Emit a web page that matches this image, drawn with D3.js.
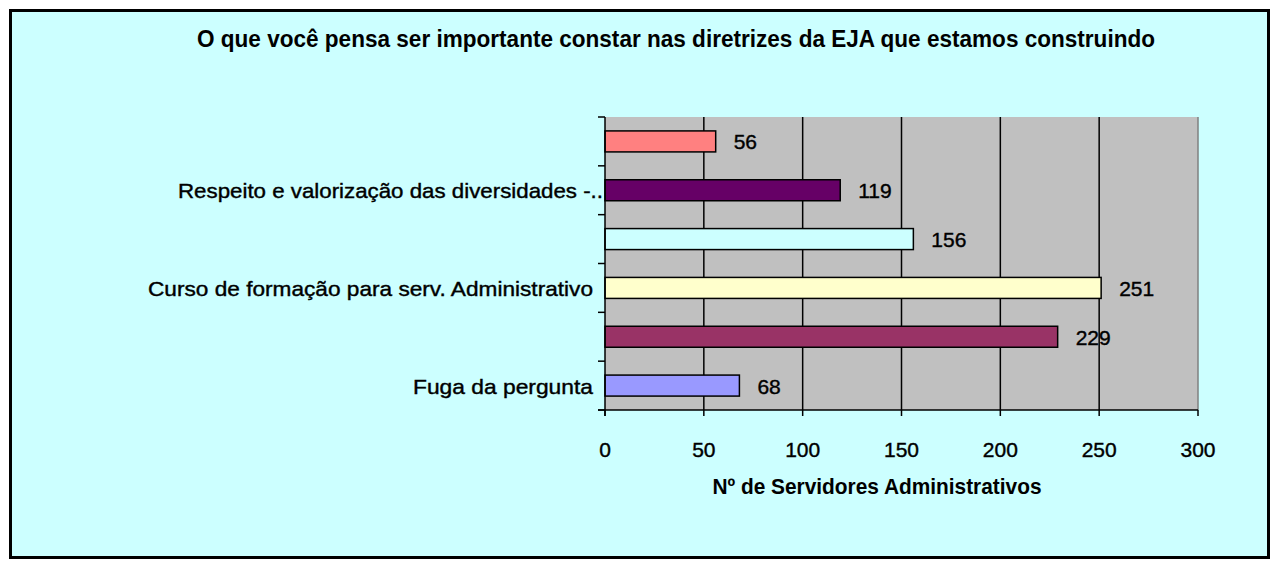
<!DOCTYPE html>
<html><head><meta charset="utf-8">
<script src="https://cdn.jsdelivr.net/npm/d3@7"></script>
<style>html,body{margin:0;padding:0;background:#fff;}svg{display:block;}</style>
</head><body>
<svg id="c" width="1279" height="569"></svg>
<script>
const title = "O que você pensa ser importante constar nas diretrizes da EJA que estamos construindo";
const xTitle = "Nº de Servidores Administrativos";
// categories top to bottom; unlabeled ones are hidden in the original chart
const categories = ["", "Respeito e valorização das diversidades -..", "", "Curso de formação para serv. Administrativo", "", "Fuga da pergunta"];
const values = [56, 119, 156, 251, 229, 68];
const colors = ["#FF8080", "#660066", "#CCFFFF", "#FFFFCC", "#993366", "#9999FF"];
const xTicks = [0, 50, 100, 150, 200, 250, 300];

const svg = d3.select("#c");
const font = "'Liberation Sans', Arial, sans-serif";

// outer frame
svg.append("rect").attr("x", 10.5).attr("y", 10.5).attr("width", 1258).attr("height", 547)
  .attr("fill", "#CCFFFF").attr("stroke", "#000").attr("stroke-width", 3);

const L = 605, R = 1198, T = 117, B = 410;
const x = d3.scaleLinear().domain([0, 300]).range([L, R]);
const y = d3.scaleBand().domain(d3.range(categories.length)).range([T, B]).paddingInner(0.57).paddingOuter(0.285);
const yEdge = d3.scaleLinear().domain([0, categories.length]).range([T, B]);

// plot area
svg.append("rect").attr("x", L).attr("y", T).attr("width", R - L).attr("height", B - T).attr("fill", "#C0C0C0");
svg.append("line").attr("x1", R).attr("x2", R).attr("y1", T).attr("y2", B).attr("stroke", "#808080").attr("stroke-width", 1.5);

// gridlines
svg.append("g").selectAll("line").data(xTicks.filter(d => d > 0 && d < 300)).join("line")
  .attr("x1", d => x(d)).attr("x2", d => x(d)).attr("y1", T).attr("y2", B)
  .attr("stroke", "#000").attr("stroke-width", 1.5);

// bars
svg.append("g").selectAll("rect").data(values).join("rect")
  .attr("x", x(0)).attr("y", (d, i) => y(i)).attr("width", d => x(d) - x(0)).attr("height", y.bandwidth())
  .attr("fill", (d, i) => colors[i]).attr("stroke", "#000").attr("stroke-width", 1.5);

// value labels
svg.append("g").selectAll("text").data(values).join("text")
  .attr("x", d => x(d) + 18).attr("y", (d, i) => y(i) + y.bandwidth() / 2 + 8)
  .attr("font-family", font).attr("font-size", 21).attr("fill", "#000")
  .attr("stroke", "#000").attr("stroke-width", 0.4)
  .text(d => d);

// y axis
svg.append("line").attr("x1", L).attr("x2", L).attr("y1", T).attr("y2", B + 6).attr("stroke", "#000").attr("stroke-width", 1.5);
svg.append("g").selectAll("line").data(d3.range(categories.length + 1)).join("line")
  .attr("x1", L - 7).attr("x2", L).attr("y1", d => yEdge(d)).attr("y2", d => yEdge(d))
  .attr("stroke", "#000").attr("stroke-width", 1.5);

// x axis
svg.append("line").attr("x1", L - 7).attr("x2", R).attr("y1", B).attr("y2", B).attr("stroke", "#000").attr("stroke-width", 1.5);
svg.append("g").selectAll("line").data(xTicks).join("line")
  .attr("x1", d => x(d)).attr("x2", d => x(d)).attr("y1", B).attr("y2", B + 6)
  .attr("stroke", "#000").attr("stroke-width", 1.5);
svg.append("g").selectAll("text").data(xTicks).join("text")
  .attr("x", d => x(d)).attr("y", 457).attr("text-anchor", "middle")
  .attr("font-family", font).attr("font-size", 21).attr("fill", "#000")
  .attr("stroke", "#000").attr("stroke-width", 0.4)
  .text(d => d);

// category labels
const catW = {1: 425, 3: 445, 5: 180};
svg.append("g").selectAll("text").data(categories.map((c, i) => ({c, i})).filter(d => d.c)).join("text")
  .attr("x", d => d.i === 1 ? 603 : 593).attr("y", d => y(d.i) + y.bandwidth() / 2 + 8)
  .attr("text-anchor", "end")
  .attr("font-family", font).attr("font-size", 21).attr("fill", "#000")
  .attr("stroke", "#000").attr("stroke-width", 0.4)
  .attr("textLength", d => catW[d.i]).attr("lengthAdjust", "spacingAndGlyphs")
  .text(d => d.c);

// axis title
svg.append("text").attr("x", 877).attr("y", 494).attr("text-anchor", "middle")
  .attr("font-family", font).attr("font-weight", "bold").attr("font-size", 22).attr("fill", "#000")
  .attr("textLength", 329).attr("lengthAdjust", "spacingAndGlyphs")
  .text(xTitle);

// chart title
svg.append("text").attr("x", 676).attr("y", 47).attr("text-anchor", "middle")
  .attr("font-family", font).attr("font-weight", "bold").attr("font-size", 23).attr("fill", "#000")
  .attr("textLength", 958).attr("lengthAdjust", "spacingAndGlyphs")
  .text(title);
</script>
</body></html>
